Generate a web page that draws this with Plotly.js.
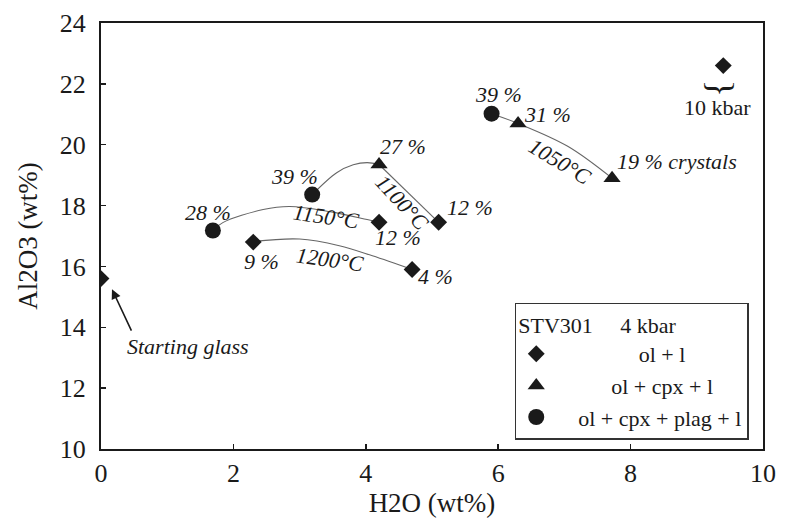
<!DOCTYPE html>
<html>
<head>
<meta charset="utf-8">
<script src="https://cdn.plot.ly/plotly-3.0.1.min.js"></script>
<style>html,body{margin:0;padding:0;background:#fff;}#chart{width:788px;height:522px;}</style>
</head>
<body>
<div id="chart"></div>
<script>
// ---- data ----
// markers by phase assemblage (H2O wt%, Al2O3 wt%)
const olX = [0, 2.3, 4.2, 4.7, 5.1, 9.4];
const olY = [15.6, 16.8, 17.45, 15.9, 17.45, 22.6];
const cpxX = [4.2, 6.3, 7.72];
const cpxY = [19.35, 20.7, 18.9];
const plagX = [1.69, 3.19, 5.9];
const plagY = [17.18, 18.36, 21.02];

// isotherm curves
const c1200X = [2.3, 3.0, 3.6, 4.1, 4.7];
const c1200Y = [16.82, 16.9, 16.68, 16.35, 15.9];
const c1150X = [1.69, 1.84, 2.45, 2.85, 3.46, 4.02, 4.2];
const c1150Y = [17.18, 17.44, 17.87, 17.97, 17.8, 17.54, 17.45];
const c1100aX = [3.19, 3.56, 3.81, 4.02, 4.2];
const c1100aY = [18.36, 19.08, 19.34, 19.41, 19.35];
const c1100bX = [4.2, 5.1];
const c1100bY = [19.35, 17.45];
const c1050X = [5.9, 6.3, 7.05, 7.72];
const c1050Y = [21.02, 20.7, 19.95, 18.9];

const xTicks = [0, 2, 4, 6, 8, 10];
const yTicks = [10, 12, 14, 16, 18, 20, 22, 24];

const legendTitle = 'STV301\u00a0\u00a0\u00a0\u00a0\u00a04 kbar';
const names = ['ol + l', 'ol + cpx + l', 'ol + cpx + plag + l'];

// ---- styling ----
const SERIF = 'Liberation Serif, Times New Roman, serif';
const INK = '#1a1a1a';
const CURVE = '#666';

function curve(x, y, shape) {
  return {x: x, y: y, type: 'scatter', mode: 'lines', showlegend: false, hoverinfo: 'skip',
    line: {color: CURVE, width: 1.1, shape: shape || 'spline', smoothing: 1}};
}
const pad = n => '\u00a0'.repeat(n);

const traces = [
  curve(c1200X, c1200Y),
  curve(c1150X, c1150Y),
  curve(c1100aX, c1100aY),
  curve(c1100bX, c1100bY, 'linear'),
  curve(c1050X, c1050Y),
  {x: olX, y: olY, type: 'scatter', mode: 'markers', name: pad(15) + names[0],
    marker: {symbol: 'diamond', size: 13, color: INK}},
  {x: cpxX, y: cpxY, type: 'scatter', mode: 'markers', name: pad(10) + names[1],
    marker: {symbol: 'triangle-up', size: 15, color: INK}},
  {x: plagX, y: plagY, type: 'scatter', mode: 'markers', name: pad(4) + names[2],
    marker: {symbol: 'circle', size: 16, color: INK}}
];

function lab(text, x, y, opts) {
  return Object.assign({text: text, x: x, y: y, xref: 'x', yref: 'y', showarrow: false,
    font: {family: SERIF, size: 22, color: INK, style: 'italic'}}, opts || {});
}

const annotations = [
  lab('28 %', 1.62, 17.77),
  lab('39 %', 2.93, 18.95),
  lab('27 %', 4.56, 19.93),
  lab('1150°C', 3.40, 17.64, {textangle: 8}),
  lab('12 %', 4.49, 16.95),
  lab('9 %', 2.42, 16.16),
  lab('1200°C', 3.46, 16.23, {textangle: 8}),
  lab('4 %', 5.05, 15.67),
  lab('12 %', 5.57, 17.93),
  lab('1100°C', 4.55, 18.10, {textangle: 47}),
  lab('39 %', 6.0, 21.64),
  lab('31 %', 6.74, 20.98),
  lab('1050°C', 6.93, 19.44, {textangle: 31}),
  lab('19 % crystals', 8.70, 19.44),
  lab('10 kbar', 9.32, 21.21, {font: {family: SERIF, size: 22, color: INK}}),
  lab('}', 9.37, 21.86, {textangle: 90, font: {family: SERIF, size: 36, color: INK}}),
  lab('Starting glass', 1.31, 13.38),
  {text: '', x: 0.166, y: 15.25, ax: 0.47, ay: 13.84, axref: 'x', ayref: 'y', xref: 'x', yref: 'y',
    showarrow: true, arrowhead: 2, arrowsize: 1.2, arrowwidth: 1.6, arrowcolor: INK}
];

const axisCommon = {
  showgrid: false, zeroline: false, showline: true, mirror: true,
  linecolor: INK, linewidth: 2, ticks: 'inside', ticklen: 5, tickwidth: 1.5, tickcolor: INK,
  tickfont: {family: SERIF, size: 26, color: INK}
};

const layout = {
  width: 788, height: 522,
  margin: {l: 101, r: 25, t: 23, b: 73, pad: 0},
  paper_bgcolor: '#fff', plot_bgcolor: '#fff',
  xaxis: Object.assign({}, axisCommon, {range: [0, 10], tickvals: xTicks, ticktext: xTicks.map(String),
    ticklabelstandoff: 0,
    title: {text: 'H2O (wt%)', font: {family: SERIF, size: 27, color: INK}, standoff: 4}}),
  yaxis: Object.assign({}, axisCommon, {range: [10, 24], tickvals: yTicks, ticktext: yTicks.map(String),
    ticklabelstandoff: 8,
    title: {text: 'Al2O3 (wt%)', font: {family: SERIF, size: 27, color: INK}, standoff: 14}}),
  showlegend: true,
  legend: {x: 0.625, y: 0.343, xanchor: 'left', yanchor: 'top',
    bgcolor: '#fff', bordercolor: '#333', borderwidth: 1.5,
    font: {family: SERIF, size: 22, color: INK},
    title: {text: legendTitle, font: {family: SERIF, size: 22, color: INK}},
    tracegroupgap: 0, itemclick: false},
  annotations: annotations
};

Plotly.newPlot('chart', traces, layout, {staticPlot: true, displayModeBar: false});
</script>
</body>
</html>
